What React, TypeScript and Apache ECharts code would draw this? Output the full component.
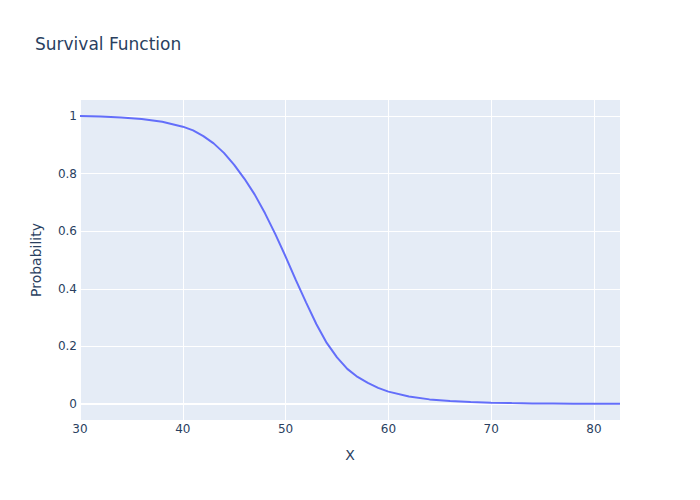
import React, { useEffect, useRef } from "react";
import * as echarts from "echarts";

const xValues = [30, 32, 34, 36, 38, 40, 41, 42, 43, 44, 45, 46, 47, 48, 49, 50, 51, 52, 53, 54, 55, 56, 57, 58, 59, 60, 62, 64, 66, 68, 70, 72, 74, 76, 78, 80, 82.53];
const survival = [1.0, 0.998, 0.995, 0.99, 0.98, 0.963, 0.95, 0.93, 0.905, 0.872, 0.83, 0.782, 0.727, 0.662, 0.59, 0.512, 0.43, 0.352, 0.277, 0.212, 0.162, 0.122, 0.094, 0.073, 0.056, 0.043, 0.026, 0.016, 0.01, 0.0065, 0.0045, 0.003, 0.002, 0.0015, 0.001, 0.0008, 0.0006];
const xTicks = [30, 40, 50, 60, 70, 80];
const yTicks = [0, 0.2, 0.4, 0.6, 0.8, 1];

const FONT = '"DejaVu Sans", verdana, sans-serif';
const TXT = "#2a3f5f";

export default function App() {
  const ref = useRef<HTMLDivElement>(null);
  useEffect(() => {
    if (!ref.current) return;
    const chart = echarts.init(ref.current, undefined, { renderer: "svg" });
    chart.setOption({
      animation: false,
      backgroundColor: "#ffffff",
      title: {
        text: "Survival Function",
        left: 35,
        top: 35,
        padding: 0,
        textStyle: { fontFamily: FONT, fontSize: 17, fontWeight: "normal", color: TXT },
      },
      grid: { left: 80, top: 100, width: 540, height: 320, show: true, backgroundColor: "#E5ECF6", borderWidth: 0 },
      xAxis: {
        type: "value",
        min: 30,
        max: 82.53,
        name: "X",
        nameLocation: "middle",
        nameGap: 28,
        nameTextStyle: { fontFamily: FONT, fontSize: 14, color: TXT },
        axisLine: { show: false },
        axisTick: { show: false, customValues: xTicks },
        axisLabel: { customValues: xTicks, fontFamily: FONT, fontSize: 12, color: TXT, margin: 3 },
        splitLine: { show: true, lineStyle: { color: "#ffffff", width: 1 } },
      },
      yAxis: {
        type: "value",
        min: -0.0556,
        max: 1.0556,
        name: "Probability",
        nameLocation: "middle",
        nameGap: 37,
        nameTextStyle: { fontFamily: FONT, fontSize: 14, color: TXT },
        axisLine: { show: false },
        axisTick: { show: false, customValues: yTicks },
        axisLabel: { customValues: yTicks, fontFamily: FONT, fontSize: 12, color: TXT, margin: 3 },
        splitLine: { show: true, lineStyle: { color: "#ffffff", width: 1 } },
      },
      series: [
        {
          type: "line",
          data: xValues.map((x, i) => [x, survival[i]]),
          showSymbol: false,
          lineStyle: { color: "#636efa", width: 2 },
          markLine: {
            silent: true,
            symbol: "none",
            label: { show: false },
            lineStyle: { color: "#ffffff", width: 2, type: "solid" },
            data: [{ yAxis: 0 }],
            z: 1,
          },
          z: 3,
        },
      ],
    });
    return () => chart.dispose();
  }, []);
  return <div ref={ref} style={{ width: 700, height: 500, margin: -8 }} />;
}
